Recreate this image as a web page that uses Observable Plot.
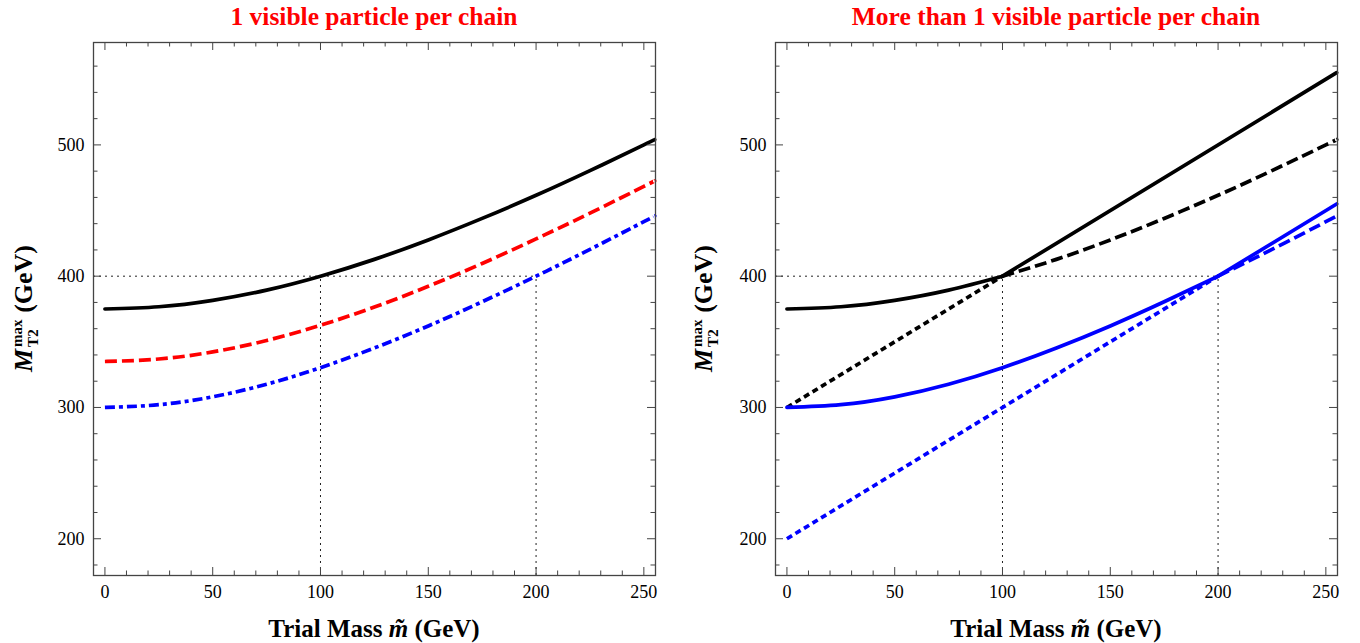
<!DOCTYPE html>
<html>
<head>
<meta charset="utf-8">
<script src="https://cdn.jsdelivr.net/npm/d3@7"></script>
<script src="https://cdn.jsdelivr.net/npm/@observablehq/plot@0.6"></script>
<style>
  body { margin: 0; background: #fff; }
  #wrap { display: flex; width: 1360px; height: 643px; }
  .panel { position: relative; width: 680px; height: 643px; }
  .title { position: absolute; top: 0; height: 34px; line-height: 34px; font-family: "Liberation Serif", serif;
           font-weight: bold; font-size: 25.5px; color: #ff0000; text-align: center; white-space: nowrap; }
  .panel svg { position: absolute; top: 34px; left: 0; }
</style>
</head>
<body>
<div id="wrap"></div>
<script>
// Trial mass grid (GeV) at which the endpoint curves are sampled
const massGrid = [0, 25, 50, 75, 100, 125, 150, 175, 200, 225, 250, 255];

// M_T2^max endpoint curves (GeV), one visible particle per chain
const blackCurve = [375, 376.7, 381.6, 389.4, 400, 412.8, 427.6, 444.0, 461.6, 480.4, 500, 504.0];
const redCurve   = [335, 336.9, 342.3, 351.0, 362.6, 376.5, 392.3, 409.7, 428.4, 448.0, 468.4, 472.6];
const blueCurve  = [300, 302.1, 308.1, 317.7, 330.3, 345.3, 362.1, 380.5, 400, 420.4, 441.5, 445.8];

// Straight branches for more than one visible particle per chain
const blackKinkMass = [100, 255], blackKinkValues = [400, 555];
const blackLowMass  = [0, 100],   blackLowValues  = [300, 400];
const blueKinkMass  = [200, 255], blueKinkValues  = [400, 455];
const blueLowMass   = [0, 200],   blueLowValues   = [200, 400];

// True-mass guide lines
const guideMass = [100, 200];
const guideValue = 400;

// Axis ticks
const xMajor = [0, 50, 100, 150, 200, 250];
const xMinor = d3.range(0, 251, 10).filter(v => v % 50 !== 0);
const yMajor = [200, 300, 400, 500];
const yMinor = d3.range(180, 561, 20).filter(v => v % 100 !== 0);

const xDomain = [-5.3, 255.4];
const yDomain = [172, 578];

const titles = ["1 visible particle per chain", "More than 1 visible particle per chain"];

const pts = (xs, ys) => xs.map((x, i) => ({x, y: ys[i]}));
const sub = (xs, ys, lo, hi) => pts(xs, ys).filter(d => d.x >= lo && d.x <= hi);

const leftLines = [
  {data: pts(massGrid, blackCurve), stroke: "#000", dash: null},
  {data: pts(massGrid, redCurve), stroke: "#ff0000", dash: "12,5"},
  {data: pts(massGrid, blueCurve), stroke: "#0000ff", dash: "10,4,4,4"}
];
const rightLines = [
  {data: sub(massGrid, blackCurve, 0, 100), stroke: "#000", dash: null},
  {data: pts(blackKinkMass, blackKinkValues), stroke: "#000", dash: null},
  {data: pts(blackLowMass, blackLowValues), stroke: "#000", dash: "6,4"},
  {data: sub(massGrid, blackCurve, 100, 255), stroke: "#000", dash: "12,5"},
  {data: sub(massGrid, blueCurve, 0, 200), stroke: "#0000ff", dash: null},
  {data: pts(blueKinkMass, blueKinkValues), stroke: "#0000ff", dash: null},
  {data: pts(blueLowMass, blueLowValues), stroke: "#0000ff", dash: "6,4"},
  {data: sub(massGrid, blueCurve, 200, 255), stroke: "#0000ff", dash: "12,5"}
];

function panel(lines, title, ml, mr) {
  const W = 680, H = 609, mt = 8, mb = 68;
  const innerW = W - ml - mr, innerH = H - mt - mb;
  const frameColor = "#444";
  const div = document.createElement("div");
  div.className = "panel";
  const t = document.createElement("div");
  t.className = "title";
  t.style.left = ml + "px";
  t.style.width = innerW + "px";
  t.textContent = title;
  div.appendChild(t);

  const svg = Plot.plot({
    width: W, height: H, marginTop: mt, marginBottom: mb, marginLeft: ml, marginRight: mr,
    x: {domain: xDomain},
    y: {domain: yDomain},
    style: {background: "white", fontFamily: "Liberation Serif, serif", fontSize: "18px", color: "#000"},
    marks: [
      Plot.ruleY([guideValue], {x1: xDomain[0], x2: guideMass[1], stroke: "#222", strokeWidth: 1, strokeDasharray: "2,4"}),
      Plot.ruleX(guideMass, {x: d => d, y1: yDomain[0], y2: guideValue, stroke: "#222", strokeWidth: 1, strokeDasharray: "2,4"}),
      ...lines.map(l => Plot.line(l.data, {
        x: "x", y: "y", stroke: l.stroke, strokeWidth: 3.7, curve: "natural",
        strokeDasharray: l.dash, strokeLinecap: l.dash ? "butt" : "round"
      })),
      // ticks on all four sides, pointing inward
      Plot.tickX(xMajor, {x: d => d, insetTop: innerH - 8, stroke: frameColor}),
      Plot.tickX(xMinor, {x: d => d, insetTop: innerH - 4.5, stroke: frameColor}),
      Plot.tickX(xMajor, {x: d => d, insetBottom: innerH - 8, stroke: frameColor}),
      Plot.tickX(xMinor, {x: d => d, insetBottom: innerH - 4.5, stroke: frameColor}),
      Plot.tickY(yMajor, {y: d => d, insetRight: innerW - 8, stroke: frameColor}),
      Plot.tickY(yMinor, {y: d => d, insetRight: innerW - 4.5, stroke: frameColor}),
      Plot.tickY(yMajor, {y: d => d, insetLeft: innerW - 8, stroke: frameColor}),
      Plot.tickY(yMinor, {y: d => d, insetLeft: innerW - 4.5, stroke: frameColor}),
      Plot.axisX({ticks: xMajor, tickSize: 0, tickPadding: 10, label: null, fontSize: 18}),
      Plot.axisY({ticks: yMajor, tickSize: 0, tickPadding: 9, label: null, fontSize: 18}),
      Plot.frame({stroke: frameColor, strokeWidth: 1.3})
    ]
  });

  const s = d3.select(svg);
  // x-axis title
  const xl = s.append("text")
    .attr("x", ml + innerW / 2).attr("y", 603)
    .attr("text-anchor", "middle")
    .attr("font-family", "Liberation Serif, serif").attr("font-size", 25).attr("font-weight", "bold")
    .attr("fill", "#000");
  xl.append("tspan").text("Trial Mass ");
  xl.append("tspan").attr("font-style", "italic").text("m\u0303");
  xl.append("tspan").text(" (GeV)");

  // y-axis title: M with stacked "max" / "T2"
  const yl = s.append("text")
    .attr("transform", `translate(32,${mt + innerH / 2}) rotate(-90)`)
    .attr("text-anchor", "middle")
    .attr("font-family", "Liberation Serif, serif").attr("font-size", 26).attr("font-weight", "bold")
    .attr("fill", "#000");
  yl.append("tspan").attr("font-style", "italic").text("M");
  yl.append("tspan").attr("font-size", 15).attr("dx", 2).attr("dy", -10).text("max");
  yl.append("tspan").attr("font-size", 15).attr("dx", -27.5).attr("dy", 16).text("T2");
  yl.append("tspan").attr("dx", 10).attr("dy", -6).text(" (GeV)");

  div.appendChild(svg);
  return div;
}

const wrap = document.getElementById("wrap");
wrap.appendChild(panel(leftLines, titles[0], 93, 25));
wrap.appendChild(panel(rightLines, titles[1], 95, 23));
</script>
</body>
</html>
